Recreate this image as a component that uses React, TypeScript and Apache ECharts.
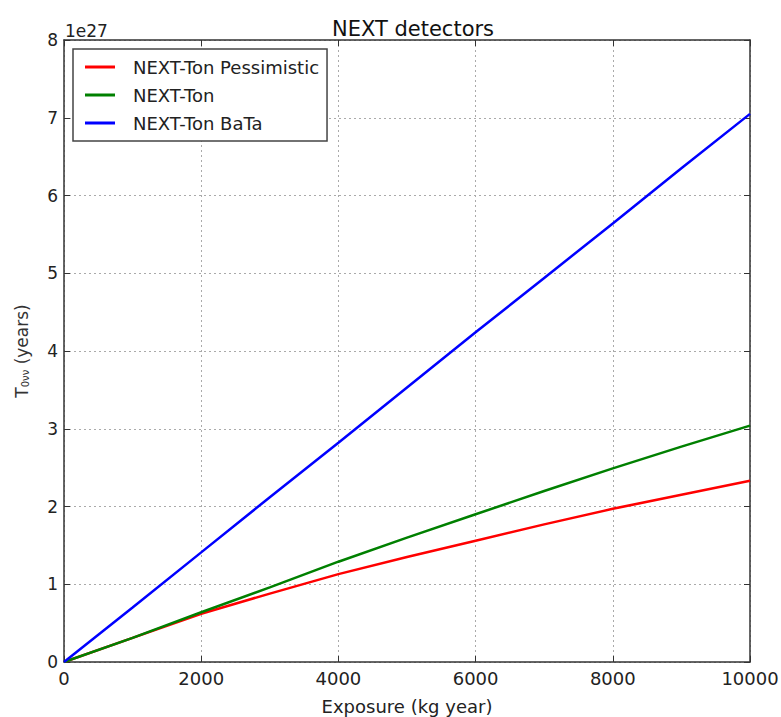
import React, { useEffect, useRef } from "react";
import * as echarts from "echarts";

// Exposure (kg year)
const exposure = [0, 1000, 2000, 3000, 4000, 5000, 6000, 7000, 8000, 9000, 10000];
// Half-life sensitivity, in units of 1e27 years
const pessimistic = [0, 0.31, 0.62, 0.88, 1.13, 1.35, 1.56, 1.77, 1.97, 2.15, 2.33];
const nextTon = [0, 0.31, 0.64, 0.96, 1.29, 1.6, 1.9, 2.2, 2.49, 2.77, 3.04];
const bata = [0, 0.7, 1.41, 2.12, 2.82, 3.53, 4.24, 4.94, 5.64, 6.35, 7.05];
const seriesNames = ["NEXT-Ton Pessimistic", "NEXT-Ton", "NEXT-Ton BaTa"];
const seriesColors = ["#ff0000", "#008000", "#0000ff"];

const FONT = "DejaVu Sans";

export default function App() {
  const ref = useRef<HTMLDivElement>(null);
  useEffect(() => {
    if (!ref.current) return;
    const chart = echarts.init(ref.current, null, { renderer: "svg" });
    const values = [pessimistic, nextTon, bata];
    const axisLine = { show: true, onZero: false, lineStyle: { color: "#333", width: 1.5 } };
    const tick = { show: true, inside: true, length: 6, lineStyle: { color: "#333" } };
    const gridLine = { show: true, lineStyle: { color: "#aaa", type: [2, 3], width: 1 } };
    chart.setOption({
      animation: false,
      backgroundColor: "#fff",
      title: {
        text: "NEXT detectors",
        left: 408,
        textAlign: "center",
        top: 13,
        textStyle: { fontFamily: FONT, fontSize: 21, fontWeight: "normal", color: "#111" },
      },
      grid: { left: 64, right: 31, top: 40, bottom: 55, show: false, containLabel: false, outerBoundsMode: "none" },
      legend: {
        show: true,
        left: 73,
        top: 49,
        orient: "vertical",
        itemWidth: 30,
        itemHeight: 3,
        itemGap: 10,
        backgroundColor: "#fff",
        borderColor: "#444",
        borderWidth: 1.5,
        borderRadius: 0,
        padding: [9, 8, 9, 12],
        icon: "rect",
        data: seriesNames,
        textStyle: { fontFamily: FONT, fontSize: 18, lineHeight: 18, color: "#222", padding: [0, 0, 0, 13] },
      },
      graphic: [
        {
          type: "text",
          left: 65,
          top: 22,
          style: { text: "1e27", fontFamily: FONT, fontSize: 17, fill: "#222" },
        },
      ],
      xAxis: [
        {
          type: "value",
          min: 0,
          max: 10000,
          interval: 2000,
          name: "Exposure (kg year)",
          nameLocation: "middle",
          nameGap: 35,
          nameTextStyle: { fontFamily: FONT, fontSize: 18, color: "#222" },
          axisLine,
          axisTick: tick,
          axisLabel: { fontFamily: FONT, fontSize: 18, color: "#222", margin: 7, formatter: (v: number) => String(v) },
          splitLine: gridLine,
        },
        {
          type: "value",
          position: "top",
          min: 0,
          max: 10000,
          interval: 2000,
          axisLine,
          axisTick: tick,
          axisLabel: { show: false },
          splitLine: { show: false },
        },
      ],
      yAxis: [
        {
          type: "value",
          min: 0,
          max: 8,
          interval: 1,
          name: "{t|T}{s|0νν} (years)",
          nameLocation: "middle",
          nameGap: 34,
          nameRotate: 90,
          nameTextStyle: {
            fontFamily: FONT,
            fontSize: 17,
            color: "#333",
            rich: {
              t: { fontFamily: FONT, fontSize: 17, color: "#333" },
              s: { fontFamily: FONT, fontSize: 10, color: "#333", verticalAlign: "bottom", padding: [7, 0, 0, 0] },
            },
          },
          axisLine,
          axisTick: tick,
          axisLabel: { fontFamily: FONT, fontSize: 17, color: "#222", margin: 6 },
          splitLine: gridLine,
        },
        {
          type: "value",
          position: "right",
          min: 0,
          max: 8,
          interval: 1,
          axisLine,
          axisTick: tick,
          axisLabel: { show: false },
          splitLine: { show: false },
        },
      ],
      series: seriesNames.map((name, i) => ({
        name,
        type: "line",
        xAxisIndex: 0,
        yAxisIndex: 0,
        showSymbol: false,
        symbol: "none",
        color: seriesColors[i],
        lineStyle: { color: seriesColors[i], width: 2.5 },
        data: exposure.map((x, j) => [x, values[i][j]]),
      })),
    });
    return () => chart.dispose();
  }, []);
  return <div ref={ref} style={{ position: "fixed", left: 0, top: 0, width: 781, height: 717 }} />;
}
